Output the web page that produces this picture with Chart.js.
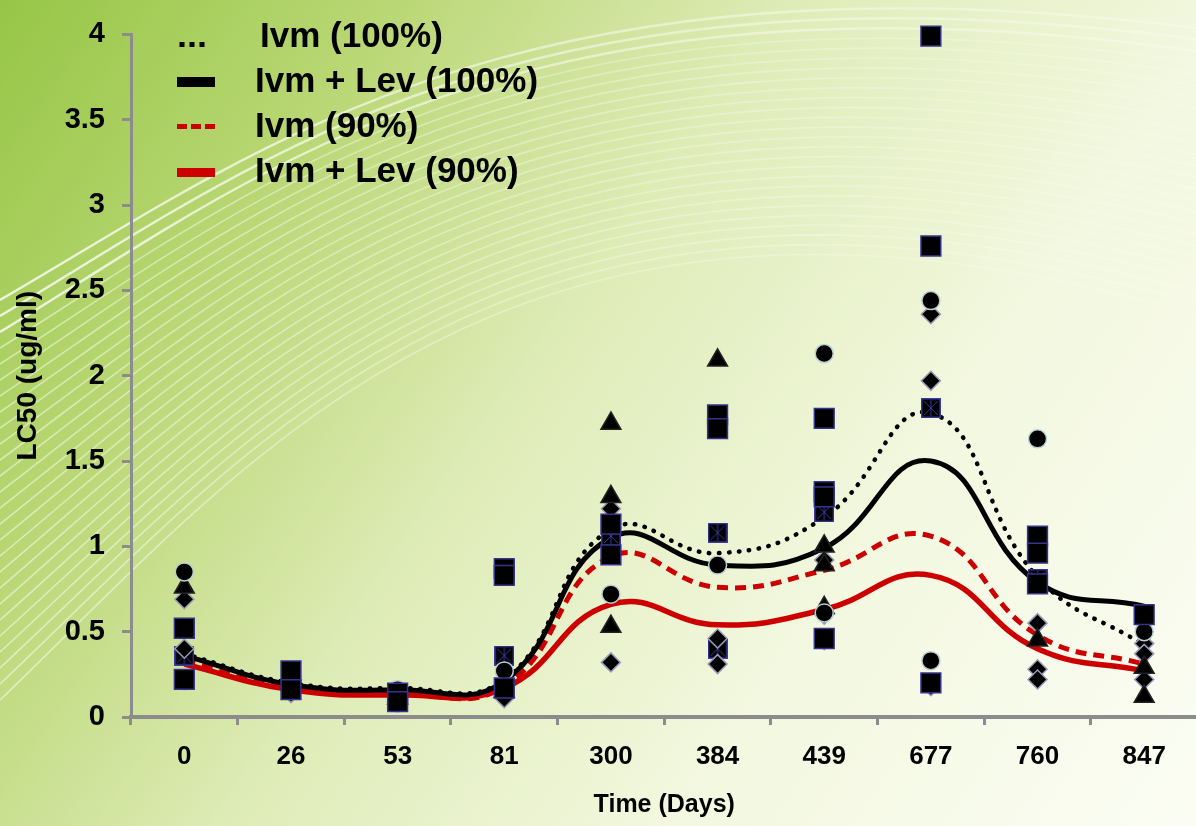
<!DOCTYPE html>
<html>
<head>
<meta charset="utf-8">
<script src="https://cdn.jsdelivr.net/npm/chart.js@4.4.1/dist/chart.umd.min.js"></script>
<style>
  html, body { margin: 0; padding: 0; width: 1196px; height: 826px; overflow: hidden; background: #e8f1cc; }
  #wrap { position: absolute; left: 0; top: 0; width: 1213px; height: 826px; }
</style>
</head>
<body>
<div id="wrap"><canvas id="chart" width="1213" height="826"></canvas></div>
<script>
// categories (days)
const days = ['0', '26', '53', '81', '300', '384', '439', '677', '760', '847'];

// fitted curves
const ivm100    = [0.37, 0.20, 0.17, 0.22, 1.10, 0.96, 1.17, 1.78, 0.82, 0.42];
const ivmLev100 = [0.36, 0.19, 0.16, 0.21, 1.05, 0.89, 0.99, 1.50, 0.79, 0.65];
const ivm90     = [0.33, 0.17, 0.14, 0.18, 0.94, 0.76, 0.86, 1.06, 0.48, 0.31];
const ivmLev90  = [0.31, 0.16, 0.13, 0.17, 0.66, 0.54, 0.63, 0.83, 0.40, 0.27];

// measured points, by marker
const circlePts = [
  ['0', 0.85], ['0', 0.21], ['26', 0.26], ['26', 0.21], ['53', 0.16], ['53', 0.08],
  ['81', 0.27], ['300', 0.72], ['384', 0.89], ['439', 2.13], ['439', 0.61],
  ['677', 2.44], ['677', 0.33], ['760', 1.63], ['847', 0.58], ['847', 0.50]
];
const squarePts = [
  ['0', 0.52], ['0', 0.22], ['26', 0.27], ['26', 0.16], ['53', 0.14], ['53', 0.09],
  ['81', 0.87], ['81', 0.83], ['81', 0.17], ['300', 1.13], ['300', 0.95],
  ['384', 1.77], ['384', 1.69], ['439', 1.75], ['439', 1.32], ['439', 1.29], ['439', 0.46],
  ['677', 3.99], ['677', 2.76], ['677', 0.20], ['760', 1.06], ['760', 0.96], ['760', 0.78],
  ['847', 0.60]
];
const trianglePts = [
  ['0', 0.76], ['26', 0.20], ['53', 0.11], ['81', 0.22], ['81', 0.15],
  ['300', 1.72], ['300', 1.29], ['300', 0.53], ['384', 2.09],
  ['439', 1.00], ['439', 0.89], ['439', 0.64], ['760', 0.45], ['847', 0.29], ['847', 0.12]
];
const diamondPts = [
  ['0', 0.69], ['0', 0.40], ['26', 0.17], ['26', 0.14], ['53', 0.12], ['81', 0.18], ['81', 0.11],
  ['300', 1.22], ['300', 0.32], ['384', 0.46], ['384', 0.31],
  ['439', 0.92], ['439', 0.60], ['439', 0.45], ['677', 2.36], ['677', 1.97], ['677', 0.18],
  ['760', 0.55], ['760', 0.28], ['760', 0.22], ['847', 0.43], ['847', 0.37], ['847', 0.22]
];
const boxXPts = [
  ['0', 0.36], ['81', 0.36], ['300', 1.06], ['384', 1.08], ['384', 0.40],
  ['439', 1.20], ['677', 1.81], ['760', 0.81]
];

const legendLabels = ['Ivm (100%)', 'Ivm + Lev (100%)', 'Ivm (90%)', 'Ivm + Lev (90%)'];

Chart.defaults.font.family = "'Liberation Sans', Arial, sans-serif";
Chart.defaults.font.weight = 'bold';
Chart.defaults.color = '#000';

// square with a star, like the excel marker
function boxXMarker() {
  const c = document.createElement('canvas');
  c.width = 20; c.height = 20;
  const g = c.getContext('2d');
  g.fillStyle = '#000';
  g.fillRect(0, 0, 20, 20);
  g.strokeStyle = '#3b3ba0';
  g.lineWidth = 1.5;
  g.strokeRect(0.75, 0.75, 18.5, 18.5);
  g.lineWidth = 1;
  g.beginPath();
  g.moveTo(3, 3); g.lineTo(17, 17);
  g.moveTo(17, 3); g.lineTo(3, 17);
  g.moveTo(10, 2); g.lineTo(10, 18);
  g.stroke();
  return c;
}

const toXY = pts => pts.map(([x, y]) => ({ x, y }));

function markerSet(pts, style, radius, border) {
  return {
    data: toXY(pts),
    showLine: false,
    pointStyle: style,
    pointRadius: radius,
    pointBackgroundColor: '#000',
    pointBorderColor: border,
    pointBorderWidth: 1.5,
    clip: false
  };
}

function curveSet(values, color, width, dash, cap) {
  return {
    data: values,
    borderColor: color,
    borderWidth: width,
    borderDash: dash,
    borderCapStyle: cap,
    tension: 0.45,
    pointRadius: 0,
    fill: false
  };
}

const backdrop = {
  id: 'backdrop',
  beforeDraw(chart) {
    const ctx = chart.ctx, w = chart.width, h = chart.height;
    ctx.save();
    const g = ctx.createLinearGradient(0, 0, w, h);
    g.addColorStop(0, '#96c646');
    g.addColorStop(0.22, '#b9d774');
    g.addColorStop(0.45, '#dfecb8');
    g.addColorStop(0.7, '#f3f8e0');
    g.addColorStop(1, '#fbfdf4');
    ctx.fillStyle = g;
    ctx.fillRect(0, 0, w, h);
    // white wave lines, fading to the right
    for (let i = 0; i < 26; i++) {
      const t = i / 25;
      const a = i < 3 ? 0.8 : 0.5;
      const s = ctx.createLinearGradient(0, 0, w, 0);
      s.addColorStop(0, 'rgba(255,255,255,' + a + ')');
      s.addColorStop(0.5, 'rgba(255,255,255,' + (a * 0.6) + ')');
      s.addColorStop(1, 'rgba(255,255,255,' + (a * 0.3) + ')');
      ctx.strokeStyle = s;
      ctx.lineWidth = i < 3 ? 2.4 : 1.6;
      ctx.beginPath();
      ctx.moveTo(0, 300 + 400 * t);
      ctx.bezierCurveTo(260, 150 + 300 * t, 520, -60 + 170 * t, w, 30 + 290 * t);
      ctx.stroke();
    }
    ctx.restore();
  }
};

const legendBox = {
  id: 'legendBox',
  afterDraw(chart) {
    const ctx = chart.ctx;
    ctx.save();
    // symbols
    ctx.fillStyle = '#000';
    [182, 192, 202].forEach(x => ctx.fillRect(x - 2.5, 42, 5, 5));
    ctx.fillRect(177, 77, 38, 10);
    ctx.fillStyle = '#cc0000';
    [177, 191, 205].forEach(x => ctx.fillRect(x, 124, 10, 5));
    ctx.fillRect(177, 168, 38, 9);
    // texts
    ctx.fillStyle = '#000';
    ctx.font = "bold 35px 'Liberation Sans', Arial, sans-serif";
    ctx.textBaseline = 'alphabetic';
    const xs = [260, 255, 255, 255];
    const ys = [47, 92, 137, 182];
    legendLabels.forEach((t, i) => ctx.fillText(t, xs[i], ys[i]));
    ctx.restore();
  }
};

new Chart(document.getElementById('chart'), {
  type: 'line',
  data: {
    labels: days,
    datasets: [
      markerSet(squarePts, 'rect', 14, '#34348c'),
      markerSet(circlePts, 'circle', 9, '#b8cfd4'),
      markerSet(trianglePts, 'triangle', 11.5, '#222'),
      markerSet(diamondPts, 'rectRot', 9.5, '#9a9ab8'),
      markerSet(boxXPts, boxXMarker(), 10, '#34348c'),
      curveSet(ivm100, '#000', 4.5, [0.5, 9.5], 'round'),
      curveSet(ivmLev100, '#000', 5, [], 'butt'),
      curveSet(ivm90, '#cc0000', 5, [11, 7], 'butt'),
      curveSet(ivmLev90, '#cc0000', 5.5, [], 'butt')
    ]
  },
  options: {
    responsive: false,
    animation: false,
    layout: { padding: { top: 22, right: 0, bottom: 0, left: 0 } },
    plugins: { legend: { display: false }, tooltip: { enabled: false } },
    scales: {
      x: {
        offset: true,
        grid: { offset: true, drawOnChartArea: false, color: '#8c8c8c', lineWidth: 3, tickLength: 8 },
        border: { color: '#8c8c8c', width: 4 },
        ticks: { font: { size: 26, weight: 'bold' }, color: '#000', padding: 16 },
        title: { display: true, text: 'Time (Days)', font: { size: 25, weight: 'bold' }, color: '#000', padding: { bottom: 6 } },
        afterFit: s => { s.height = 109; }
      },
      y: {
        min: 0,
        max: 4,
        grid: { drawOnChartArea: false, color: '#8c8c8c', lineWidth: 3, tickLength: 9 },
        border: { color: '#8c8c8c', width: 3 },
        ticks: { stepSize: 0.5, font: { size: 29, weight: 'bold' }, color: '#000', padding: 17, callback: v => String(v) },
        title: { display: true, text: 'LC50 (ug/ml)', font: { size: 28, weight: 'bold' }, color: '#000', padding: { top: 11 } },
        afterFit: s => { s.width = 131; }
      }
    }
  },
  plugins: [backdrop, legendBox]
});
</script>
</body>
</html>
